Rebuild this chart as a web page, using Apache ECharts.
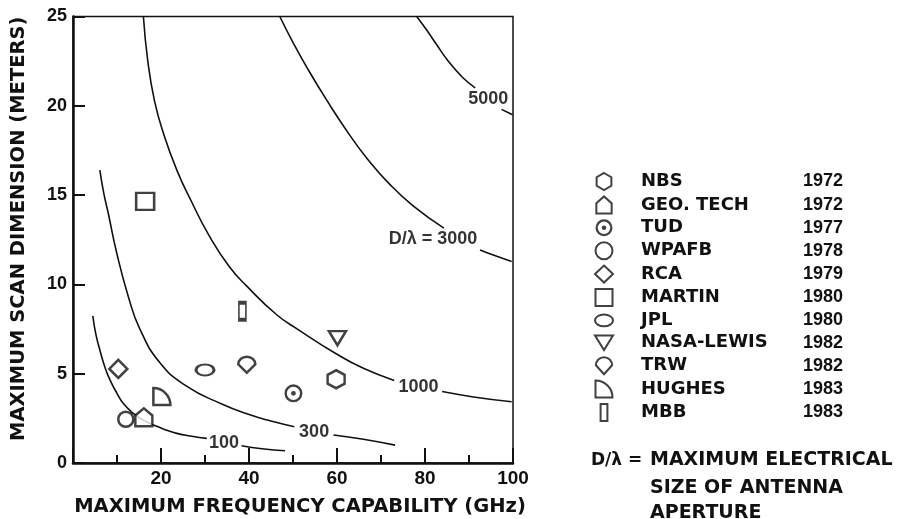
<!DOCTYPE html>
<html>
<head>
<meta charset="utf-8">
<script src="https://cdn.jsdelivr.net/npm/echarts@6/dist/echarts.min.js"></script>
<style>
  html, body { margin: 0; padding: 0; background: #fff; }
  #chart { width: 897px; height: 519px; }
</style>
</head>
<body>
<div id="chart"></div>
<script>
// antenna test ranges: name, year, frequency (GHz), scan dimension (m)
var companies = ["NBS", "GEO. TECH", "TUD", "WPAFB", "RCA", "MARTIN", "JPL", "NASA-LEWIS", "TRW", "HUGHES", "MBB"];
var years = ["1972", "1972", "1977", "1978", "1979", "1980", "1980", "1982", "1982", "1983", "1983"];
var freqs = [59.8, 16.1, 50.1, 12.0, 10.3, 16.4, 30.0, 60.1, 39.5, 20.2, 38.5];
var dims = [4.69, 2.56, 3.9, 2.45, 5.27, 14.65, 5.21, 6.99, 5.5, 3.72, 8.5];

// D/lambda curves (split where the label sits)
var c100a = [[4.5, 8.24], [5.2, 7.2], [6.1, 6.33], [7.2, 5.4], [8.4, 4.65], [10, 3.9], [11.4, 3.34], [13.7, 2.78], [16, 2.4], [18.3, 2.13], [20.8, 1.88], [23.6, 1.66], [27, 1.5], [30.4, 1.38]];
var c100b = [[38.3, 0.97], [43, 0.8], [48.2, 0.69]];
var c300a = [[6.1, 16.4], [7.0, 15.1], [8.0, 14.0], [9.9, 11.8], [12.6, 9.3], [15.2, 7.5], [19.8, 5.6], [25.8, 4.3], [33.4, 3.35], [40.2, 2.7], [45, 2.35], [50.3, 2.03]];
var c300b = [[59.2, 1.57], [66, 1.33], [73.2, 1.0]];
var c1000a = [[16, 25], [17, 22.5], [18.5, 20.3], [20.5, 18.5], [23.6, 16.4], [27, 14.6], [31, 12.7], [35.5, 11.0], [39.5, 9.9], [46.3, 8.3], [51, 7.5], [59.9, 6.1], [66, 5.3], [73, 4.62]];
var c1000b = [[83.9, 4.0], [91, 3.7], [99.7, 3.43]];
var c3000a = [[47, 25], [50.1, 23.5], [53.5, 22], [57.7, 20.3], [62.5, 18.5], [67, 17.0], [72, 15.6], [77.3, 14.4], [84.3, 13.15]];
var c3000b = [[92.5, 11.93], [96, 11.6], [99.7, 11.28]];
var c5000a = [[78.1, 25], [80.5, 24.2], [82.7, 23.4], [85.3, 22.5], [88.5, 21.6], [91.4, 21.0]];
var c5000b = [[97.4, 19.8], [99.9, 19.5]];
var curveLabels = [[34.3, 1.14, "100"], [54.8, 1.75, "300"], [78.5, 4.27, "1000"], [81.8, 12.53, "D/λ = 3000"], [94.4, 20.37, "5000"]];

var xTicks = [0, 20, 40, 60, 80, 100];
var yTicks = [0, 5, 10, 15, 20, 25];

var words = "DejaVu Sans";
var nums = "Liberation Sans";

function ringPath(r1, r2, r3) {
  function circ(r, s) {
    return "M-" + r + ",0 A" + r + "," + r + " 0 1," + s + " " + r + ",0 A" + r + "," + r + " 0 1," + s + " -" + r + ",0 Z ";
  }
  return "path://" + circ(r1, 1) + circ(r2, 0) + circ(r3, 1);
}

// marker look for each company
var markers = {
  "NBS": { symbol: "path://M0,-10 L8.66,-5 L8.66,5 L0,10 L-8.66,5 L-8.66,-5 Z", size: [17, 18] },
  "GEO. TECH": { symbol: "path://M-9,10 L-9,-2 L0,-10 L9,-2 L9,10 Z", size: [17, 18] },
  "TUD": { symbol: ringPath(10, 7.3, 2.7), size: [18, 18], fill: true },
  "WPAFB": { symbol: "circle", size: [15, 15] },
  "RCA": { symbol: "diamond", size: [18, 18] },
  "MARTIN": { symbol: "path://M-10,-10 L10,-10 L10,10 L-10,10 Z", size: [18, 17] },
  "JPL": { symbol: "path://M-10,0 A10,6.5 0 1,1 10,0 A10,6.5 0 1,1 -10,0 Z", size: [18, 11] },
  "NASA-LEWIS": { symbol: "path://M-10,-8 L10,-8 L0,8 Z", size: [17, 14] },
  "TRW": { symbol: "path://M-9,-1 A9,9 0 0,1 9,-1 L0,9 Z", size: [17, 16] },
  "HUGHES": { symbol: "path://M-9,9 L-9,-9 A18,18 0 0,1 9,9 Z", size: [17, 17] },
  "MBB": { symbol: "path://M-4,-10 L4,-10 L4,10 L-4,10 Z", size: [7, 17] }
};

var series = [];
[c100a, c100b, c300a, c300b, c1000a, c1000b, c3000a, c3000b, c5000a, c5000b].forEach(function (c) {
  series.push({
    type: "line",
    data: c,
    smooth: 0.5,
    showSymbol: false,
    silent: true,
    lineStyle: { color: "#111", width: 1.6 },
    z: 2
  });
});
series.push({
  type: "scatter",
  data: curveLabels,
  symbolSize: 0,
  silent: true,
  label: {
    show: true,
    position: "inside",
    formatter: function (p) { return p.value[2]; },
    color: "#000",
    fontFamily: nums,
    fontWeight: "bold",
    fontSize: 18
  }
});
companies.forEach(function (name, i) {
  var m = markers[name];
  series.push({
    name: name,
    type: "scatter",
    data: [[freqs[i], dims[i]]],
    symbol: m.symbol,
    symbolSize: m.size,
    itemStyle: m.fill
      ? { color: "#111", borderWidth: 0 }
      : { color: "#fff", borderColor: "#111", borderWidth: 2.5 },
    z: 5
  });
});

var chart = echarts.init(document.getElementById("chart"));
chart.setOption({
  animation: false,
  backgroundColor: "#fff",
  grid: {
    left: 73, right: 384, top: 16.5, bottom: 56,
    outerBoundsMode: "none",
    containLabel: false,
    show: true, borderColor: "#111", borderWidth: 1.5
  },
  xAxis: {
    type: "value",
    min: xTicks[0],
    max: xTicks[xTicks.length - 1],
    interval: 20,
    name: "MAXIMUM FREQUENCY CAPABILITY (GHz)",
    nameLocation: "middle",
    nameGap: 34,
    nameTextStyle: { fontFamily: words, fontWeight: "bold", fontSize: 19.5, color: "#111", padding: [0, 0, 0, 14] },
    axisLine: { lineStyle: { color: "#111", width: 2.5 } },
    axisTick: { inside: true, length: 15, lineStyle: { color: "#111", width: 2 } },
    minorTick: { show: true, splitNumber: 2, length: 8, lineStyle: { color: "#111", width: 2 } },
    splitLine: { show: false },
    axisLabel: {
      margin: 6,
      color: "#111",
      fontFamily: nums,
      fontWeight: "bold",
      fontSize: 19,
      formatter: function (v) { return v === 0 ? "" : String(v); }
    }
  },
  yAxis: {
    type: "value",
    min: yTicks[0],
    max: yTicks[yTicks.length - 1],
    interval: 5,
    name: "MAXIMUM SCAN DIMENSION (METERS)",
    nameLocation: "middle",
    nameGap: 44,
    nameTextStyle: { fontFamily: words, fontWeight: "bold", fontSize: 19.5, color: "#111", padding: [0, 0, 0, 22] },
    axisLine: { lineStyle: { color: "#111", width: 2.5 } },
    axisTick: { inside: true, length: 12, lineStyle: { color: "#111", width: 2 } },
    splitLine: { show: false },
    axisLabel: {
      margin: 6,
      color: "#111",
      fontFamily: nums,
      fontWeight: "bold",
      fontSize: 18
    }
  },
  legend: {
    data: companies,
    orient: "vertical",
    left: 589,
    top: 167,
    itemWidth: 18,
    itemHeight: 17,
    itemGap: 4.4,
    selectedMode: false,
    formatter: function (name) {
      return "{n|" + name + "}{y|" + years[companies.indexOf(name)] + "}";
    },
    textStyle: {
      color: "#111",
      lineHeight: 17,
      rich: {
        n: { fontFamily: words, fontWeight: "bold", fontSize: 18, lineHeight: 17, color: "#111", width: 162, padding: [0, 0, 0, 23] },
        y: { fontFamily: nums, fontWeight: "bold", fontSize: 18, lineHeight: 17, color: "#111" }
      }
    }
  },
  graphic: [
    { type: "text", left: 591, top: 452, style: { text: "D/λ =", fontFamily: words, fontWeight: "bold", fontSize: 17, fill: "#111" } },
    { type: "text", left: 650, top: 451, style: { text: "MAXIMUM ELECTRICAL", fontFamily: words, fontWeight: "bold", fontSize: 19, fill: "#111" } },
    { type: "text", left: 650, top: 479, style: { text: "SIZE OF ANTENNA", fontFamily: words, fontWeight: "bold", fontSize: 19, fill: "#111" } },
    { type: "text", left: 650, top: 504, style: { text: "APERTURE", fontFamily: words, fontWeight: "bold", fontSize: 19, fill: "#111" } }
  ],
  series: series
});
</script>
</body>
</html>
